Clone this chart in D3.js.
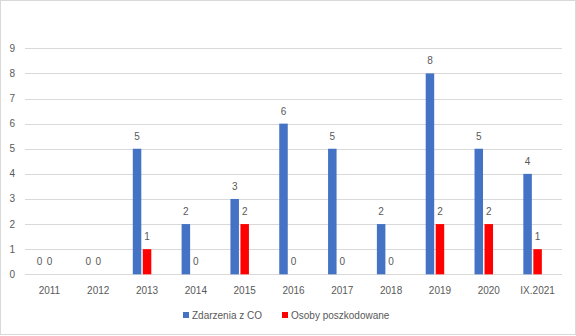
<!DOCTYPE html>
<html>
<head>
<meta charset="utf-8">
<script src="https://cdn.jsdelivr.net/npm/d3@7"></script>
<style>
body{margin:0;background:#fff;}
svg text{font-family:"Liberation Sans",Arial,sans-serif;fill:#595959;}
</style>
</head>
<body>
<svg width="576" height="336"></svg>
<script>
var years=["2011","2012","2013","2014","2015","2016","2017","2018","2019","2020","IX.2021"];
var zdarzenia=[0,0,5,2,3,6,5,2,8,5,4];
var osoby=[0,0,1,0,2,0,0,0,2,2,1];
var yticks=[0,1,2,3,4,5,6,7,8,9];
var seriesNames=["Zdarzenia z CO","Osoby poszkodowane"];
var colors=["#4472C4","#FF0000"];

var width=576,height=336;
var plotleft=25,plotright=562,plottop=48.3,plotbottom=274.3;

var svg=d3.select("svg");

svg.append("rect")
	.attr("x",0.5).attr("y",0.5)
	.attr("width",width-1).attr("height",height-2)
	.attr("fill","#fff").attr("stroke","#d9d9d9");

var scalex=d3.scaleBand().domain(years).range([plotleft,plotright]);
var scaley=d3.scaleLinear().domain([0,9]).range([plotbottom,plottop]);

// gridlines
svg.append("g")
	.selectAll("line")
	.data(yticks)
	.enter()
	.append("line")
	.attr("x1",plotleft).attr("x2",plotright)
	.attr("y1",d=>Math.round(scaley(d))+0.5)
	.attr("y2",d=>Math.round(scaley(d))+0.5)
	.attr("stroke","#d9d9d9");

// y labels
svg.append("g")
	.selectAll("text")
	.data(yticks)
	.enter()
	.append("text")
	.attr("x",15)
	.attr("y",d=>scaley(d))
	.attr("dy","0.35em")
	.style("text-anchor","end")
	.style("font-size","10px")
	.text(d=>d);

// x labels
svg.append("g")
	.selectAll("text")
	.data(years)
	.enter()
	.append("text")
	.attr("x",d=>scalex(d)+scalex.bandwidth()/2)
	.attr("y",294)
	.style("text-anchor","middle")
	.style("font-size","10px")
	.text(d=>d);

var barw=8.5,gap=1.5,shift=-5;
var data=[zdarzenia,osoby];

data.forEach(function(vals,si){
	var g=svg.append("g");
	var xpos=function(i){
		var c=scalex(years[i])+scalex.bandwidth()/2+shift;
		return si==0 ? c-gap/2-barw : c+gap/2;
	};
	g.selectAll("rect")
		.data(vals)
		.enter()
		.append("rect")
		.attr("x",(d,i)=>xpos(i))
		.attr("y",d=>scaley(d))
		.attr("width",barw)
		.attr("height",d=>scaley(0)-scaley(d))
		.attr("fill",colors[si]);
	g.selectAll("text")
		.data(vals)
		.enter()
		.append("text")
		.attr("x",(d,i)=>xpos(i)+barw/2)
		.attr("y",d=>scaley(d)-9)
		.style("text-anchor","middle")
		.style("font-size","10px")
		.text(d=>d);
});

// legend
var legend=[{x:183,t:seriesNames[0],c:colors[0]},{x:282,t:seriesNames[1],c:colors[1]}];
var lg=svg.append("g");
lg.selectAll("rect")
	.data(legend)
	.enter()
	.append("rect")
	.attr("x",d=>d.x).attr("y",312)
	.attr("width",6).attr("height",6)
	.attr("fill",d=>d.c);
lg.selectAll("text")
	.data(legend)
	.enter()
	.append("text")
	.attr("x",d=>d.x+9)
	.attr("y",318.5)
	.style("font-size","10px")
	.text(d=>d.t);
</script>
</body>
</html>
